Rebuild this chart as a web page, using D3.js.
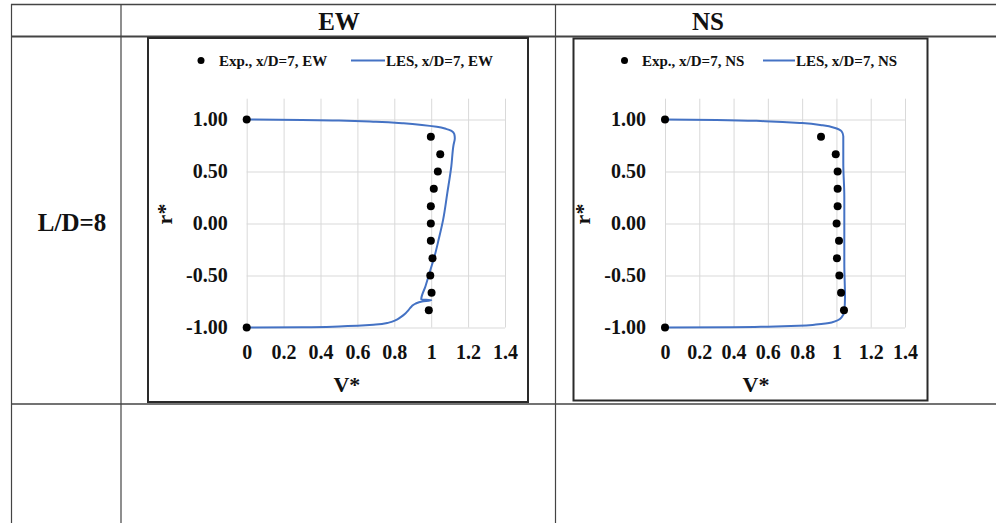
<!DOCTYPE html>
<html>
<head>
<meta charset="utf-8">
<script src="https://cdn.jsdelivr.net/npm/d3@7"></script>
<style>
  body { margin: 0; background: #fff; }
  svg text { font-family: "Liberation Serif", "Times New Roman", serif; font-weight: bold; fill: #111; }
  .grid line { stroke: #d9d9d9; stroke-width: 1; }
  .grid .domain { display: none; }
</style>
</head>
<body>
<svg width="996" height="523"></svg>
<script>
//Data
const rowLabel = "L/D=8";
const columnLabels = ["EW", "NS"];
const xTicks = [0, 0.2, 0.4, 0.6, 0.8, 1, 1.2, 1.4];
const yTicks = [-1, -0.5, 0, 0.5, 1];

const expR = [1, 0.833, 0.667, 0.5, 0.333, 0.167, 0, -0.167, -0.333, -0.5, -0.667, -0.833, -1];
const expEwV = [0, 0.998, 1.049, 1.036, 1.014, 0.998, 0.998, 0.998, 1.007, 0.995, 1.002, 0.987, 0];
const expNsV = [0, 0.91, 0.996, 1.007, 1.007, 1.007, 1.001, 1.015, 1.003, 1.017, 1.027, 1.044, 0];

const lesEwV = [0, 0.3, 0.5, 0.7, 0.85, 0.95, 1.03, 1.08, 1.11, 1.125, 1.128, 1.121, 1.109, 1.087, 1.065, 1.041, 1.018, 0.996, 0.969, 0.946, 1.0, 0.95, 0.915, 0.895, 0.878, 0.86, 0.835, 0.805, 0.77, 0.7, 0.6, 0.5, 0.3, 0];
const lesEwR = [1, 0.996, 0.99, 0.978, 0.963, 0.948, 0.93, 0.91, 0.89, 0.86, 0.82, 0.755, 0.55, 0.29, 0.04, -0.15, -0.316, -0.444, -0.603, -0.731, -0.737, -0.75, -0.77, -0.795, -0.83, -0.865, -0.9, -0.932, -0.953, -0.972, -0.984, -0.99, -0.997, -1];

const lesNsV = [0, 0.3, 0.583, 0.8, 0.92, 0.992, 1.03, 1.04, 1.04, 1.046, 1.046, 1.046, 1.05, 1.046, 1.03, 0.972, 0.88, 0.778, 0.6, 0.389, 0];
const lesNsR = [1, 0.996, 0.984, 0.966, 0.944, 0.919, 0.887, 0.84, 0.58, 0.26, -0.065, -0.387, -0.71, -0.839, -0.903, -0.952, -0.972, -0.984, -0.992, -0.998, -1];

const expColor = "#000";
const lesColor = "#4472C4";

const svg = d3.select("svg");

//Table Setup
const tableStroke = "#444";
const hLines = [{y: 4.5, w: 1.6}, {y: 36.5, w: 2}, {y: 404, w: 1.6}];
hLines.forEach(l => {
  svg.append("line")
     .attr("x1", 11).attr("x2", 996)
     .attr("y1", l.y).attr("y2", l.y)
     .attr("stroke", tableStroke)
     .attr("stroke-width", l.w);
});
[11.5, 121, 555.5].forEach(x => {
  svg.append("line")
     .attr("x1", x).attr("x2", x)
     .attr("y1", 4).attr("y2", 523)
     .attr("stroke", tableStroke)
     .attr("stroke-width", 1.2);
});

svg.append("text")
   .attr("x", 339).attr("y", 30)
   .attr("text-anchor", "middle")
   .style("font-size", "25px")
   .text(columnLabels[0]);
svg.append("text")
   .attr("x", 708).attr("y", 30)
   .attr("text-anchor", "middle")
   .style("font-size", "25px")
   .text(columnLabels[1]);
svg.append("text")
   .attr("x", 72).attr("y", 231)
   .attr("text-anchor", "middle")
   .style("font-size", "25px")
   .text(rowLabel);

//One chart panel
function drawPanel(p){
  const xScale = d3.scaleLinear().domain([0, 1.4]).range([p.left, p.right]);
  const yScale = d3.scaleLinear().domain([-1, 1.2]).range([327.5, 327.5 - 2.2 * 104]);

  //Frame
  svg.append("rect")
     .attr("x", p.box[0]).attr("y", p.box[1])
     .attr("width", p.box[2] - p.box[0])
     .attr("height", p.box[3] - p.box[1])
     .attr("fill", "#fff")
     .attr("stroke", "#2a2a2a")
     .attr("stroke-width", 2);

  //Axis + Grid
  const xAxis = d3.axisBottom(xScale)
                  .tickValues(xTicks)
                  .tickSize(-(yScale(-1) - yScale(1.2)))
                  .tickPadding(17)
                  .tickFormat(d => String(+d.toFixed(1)));
  svg.append("g")
     .attr("class", "grid")
     .attr("transform", "translate(0, " + yScale(-1) + ")")
     .call(xAxis)
     .selectAll("text")
     .style("font-size", "20px");

  const yAxis = d3.axisLeft(yScale)
                  .tickValues(yTicks)
                  .tickSize(-(p.right - p.left))
                  .tickPadding(19)
                  .tickFormat(d => d.toFixed(2));
  svg.append("g")
     .attr("class", "grid")
     .attr("transform", "translate(" + p.left + ", 0)")
     .call(yAxis)
     .selectAll("text")
     .style("font-size", "20px");

  //LES line (r is decreasing all the way, so monotoneY keeps it smooth)
  const lesData = p.lesV.map((v, i) => [v, p.lesR[i]]);
  const line = d3.line()
                 .curve(d3.curveMonotoneY)
                 .x(d => xScale(d[0]))
                 .y(d => yScale(d[1]));
  svg.append("path")
     .datum(lesData)
     .attr("d", line)
     .attr("fill", "none")
     .attr("stroke", lesColor)
     .attr("stroke-width", 2)
     .attr("stroke-linejoin", "round");

  //Exp points
  svg.selectAll(null)
     .data(p.expV.map((v, i) => [v, expR[i]]))
     .enter()
     .append("circle")
     .attr("cx", d => xScale(d[0]))
     .attr("cy", d => yScale(d[1]))
     .attr("r", 4)
     .attr("fill", expColor);

  //Axis titles
  svg.append("text")
     .attr("x", (p.left + p.right) / 2 - 29).attr("y", 392)
     .attr("text-anchor", "middle")
     .style("font-size", "22px")
     .text("V*");
  svg.append("text")
     .attr("transform", "translate(" + (p.left - 75) + ", 214) rotate(-90)")
     .attr("text-anchor", "middle")
     .style("font-size", "22px")
     .text("r*");

  //Legend
  svg.append("circle")
     .attr("cx", p.legend[0]).attr("cy", 60.5)
     .attr("r", 3.5)
     .attr("fill", expColor);
  svg.append("text")
     .attr("x", p.legend[1]).attr("y", 66)
     .style("font-size", "15px")
     .text(p.expName);
  svg.append("line")
     .attr("x1", p.legend[2]).attr("x2", p.legend[3])
     .attr("y1", 60.5).attr("y2", 60.5)
     .attr("stroke", lesColor)
     .attr("stroke-width", 2);
  svg.append("text")
     .attr("x", p.legend[3] + 1).attr("y", 66)
     .style("font-size", "15px")
     .text(p.lesName);
}

drawPanel({
  box: [148, 38, 528, 402],
  left: 246.7, right: 505,
  expV: expEwV, lesV: lesEwV, lesR: lesEwR,
  legend: [201, 219, 351, 385],
  expName: "Exp., x/D=7, EW",
  lesName: "LES, x/D=7, EW"
});

drawPanel({
  box: [573.5, 38.5, 927.5, 400.5],
  left: 665, right: 905,
  expV: expNsV, lesV: lesNsV, lesR: lesNsR,
  legend: [624.5, 642, 763, 795],
  expName: "Exp., x/D=7, NS",
  lesName: "LES, x/D=7, NS"
});
</script>
</body>
</html>
